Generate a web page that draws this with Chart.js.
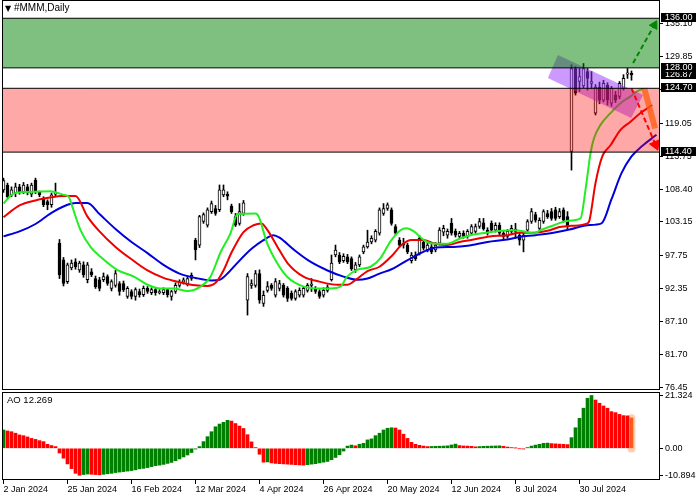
<!DOCTYPE html>
<html><head><meta charset="utf-8">
<script src="https://cdn.jsdelivr.net/npm/chart.js@4.4.1/dist/chart.umd.min.js"></script>
<style>
html,body{margin:0;padding:0;background:#fff;}
#wrap{position:relative;width:700px;height:500px;overflow:hidden;font-family:"Liberation Sans",Arial,sans-serif;}
#main{position:absolute;left:0;top:0;}
#ao{position:absolute;left:0;top:390px;}
.lbl{position:absolute;color:#000;white-space:nowrap;line-height:12px;}
</style></head><body>
<div id="wrap">
<canvas id="main" width="700" height="391"></canvas>
<canvas id="ao" width="700" height="110"></canvas>
<div class="lbl" id="title" style="left:5px;top:2px;font-size:10px;"><span style="font-family:'DejaVu Sans';font-size:8px;">&#9660;</span> <span id="sym"></span></div>
<div class="lbl" id="aolbl" style="left:7px;top:394px;font-size:9.5px;"></div>
</div>
<script>
// ---------------- DATA ----------------
const symbolName = '#MMM,Daily';
const xTickIndex  = [0, 16, 32, 48, 64, 80, 96, 112, 128, 144];
const xTickLabels = ['2 Jan 2024','25 Jan 2024','16 Feb 2024','12 Mar 2024','4 Apr 2024','26 Apr 2024','20 May 2024','12 Jun 2024','8 Jul 2024','30 Jul 2024'];
const yTickValues = [76.45, 81.70, 87.10, 92.35, 97.75, 103.15, 108.40, 113.75, 119.05, 124.45, 129.85, 135.10];

const opens = [108.3,109.1,107.5,107.8,108.8,108.0,108.8,107.6,109.9,107.9,106.8,106.4,105.9,107.6,99.7,97.0,93.5,95.7,96.7,95.4,
96.2,93.8,95.1,94.0,93.8,93.8,94.3,92.4,92.9,93.2,93.2,91.1,91.9,91.1,91.9,91.4,92.4,91.7,92.2,91.7,
91.7,92.2,91.1,91.9,92.9,93.4,93.0,94.0,100.2,99.4,103.2,102.6,104.8,105.3,105.1,107.5,107.6,105.7,104.0,102.9,
104.5,90.5,92.9,92.9,94.8,90.0,92.1,92.9,91.3,92.4,92.9,92.4,91.6,90.8,91.3,91.3,92.1,92.9,92.4,91.9,
91.3,92.1,93.8,97.8,97.8,96.9,97.5,97.2,95.4,96.2,98.3,99.1,99.9,100.2,101.3,104.5,105.3,105.1,102.4,100.2,
99.7,99.4,96.9,97.8,98.1,99.9,98.6,99.1,98.6,99.7,101.5,101.0,102.9,101.6,100.8,101.3,100.8,101.3,101.6,102.4,
103.0,101.8,102.9,101.8,102.6,101.3,100.8,101.6,102.0,101.0,100.2,101.8,103.2,104.3,102.1,103.2,104.5,104.8,105.1,104.0,
105.1,104.0,114.5,127.9,125.8,125.1,127.4,125.5,120.7,124.9,122.8,125.2,122.3,123.6,123.4,124.7,127.0,127.1];
const highs = [110.2,109.4,108.8,109.4,109.2,109.5,109.2,109.4,110.2,108.1,107.2,106.7,107.8,109.4,100.3,97.4,96.5,97.0,97.2,96.8,
96.7,96.6,95.6,94.4,94.2,94.9,94.6,93.8,95.3,93.5,93.6,92.7,92.2,92.5,92.3,92.8,92.7,92.5,92.4,92.2,
92.5,92.4,92.1,93.3,93.8,94.1,94.4,94.9,100.5,104.2,104.6,105.4,106.5,105.8,109.1,109.1,108.0,106.0,104.5,106.1,
106.6,94.8,93.8,95.3,95.4,92.0,93.5,93.2,94.0,93.7,93.2,92.7,92.0,92.2,92.5,92.7,93.2,94.0,92.7,92.2,
92.5,93.0,97.8,99.4,98.2,98.0,97.9,97.5,96.6,97.8,99.4,101.8,100.9,101.9,105.4,106.1,106.2,105.4,102.7,100.6,
100.5,99.7,98.2,98.3,100.9,100.3,99.8,99.5,99.8,102.2,102.6,102.0,103.7,102.0,101.6,101.7,101.9,102.7,102.8,103.7,
103.7,102.2,103.3,103.0,103.0,101.6,101.9,102.6,102.9,101.3,101.6,103.5,105.3,104.7,103.8,105.1,105.0,105.3,105.5,105.3,
105.4,104.8,128.5,128.2,127.9,128.7,127.9,127.4,125.3,125.7,126.0,125.6,125.0,124.2,125.8,126.9,127.9,127.5];
const lows = [107.9,107.0,107.2,107.2,107.6,107.7,107.5,107.2,107.7,107.2,105.6,105.1,105.5,107.2,94.0,92.8,93.2,95.4,95.5,95.0,
94.2,93.3,94.3,92.4,92.0,93.5,92.9,92.0,92.6,91.3,91.9,90.8,90.7,90.5,91.0,91.1,91.6,91.4,91.3,91.5,
91.4,91.0,90.5,91.6,92.6,93.1,92.8,93.7,97.0,99.0,102.9,102.3,104.5,104.2,104.8,107.2,106.7,104.5,102.4,102.6,
104.2,88.1,92.4,92.6,90.0,89.5,91.8,92.1,91.0,92.0,91.0,90.3,90.5,90.5,91.0,91.0,91.8,91.9,91.6,90.8,
91.0,91.8,93.6,97.5,96.4,96.6,96.4,95.3,95.0,95.9,98.0,98.9,99.6,99.9,101.0,104.2,105.0,102.6,101.0,99.1,
98.9,98.0,96.5,96.9,97.8,98.6,98.3,98.0,98.3,99.4,100.9,100.5,101.0,100.7,100.5,100.5,100.5,101.0,101.3,102.1,
101.8,101.0,101.5,101.5,101.0,100.4,100.5,101.3,100.5,99.4,98.3,101.5,102.9,103.1,101.8,102.9,103.7,103.4,103.4,103.7,
103.1,101.9,111.5,123.6,124.2,124.8,124.4,124.7,120.4,122.2,122.5,122.0,121.8,122.4,123.0,124.4,126.3,126.0];
const closes = [109.8,107.2,108.3,108.8,108.0,109.1,107.8,109.1,108.0,107.5,105.9,105.9,107.5,107.9,94.6,93.2,96.2,96.5,95.9,96.5,
94.6,96.2,94.6,92.7,92.4,94.3,93.2,93.5,94.8,91.9,92.2,92.4,91.1,92.2,91.4,92.4,91.9,92.2,91.7,91.9,
92.2,91.4,91.9,92.9,93.4,93.8,94.0,94.5,98.6,104.0,104.3,105.1,106.1,104.5,108.3,108.3,107.3,104.8,102.6,104.8,
106.2,94.3,93.2,94.8,90.5,91.3,92.7,92.4,93.5,93.2,91.3,90.8,90.8,91.9,92.1,92.4,92.9,93.1,91.9,91.1,
92.1,92.6,96.5,98.6,96.7,97.6,96.7,95.6,96.2,97.5,99.1,99.9,100.5,101.6,105.1,105.3,105.9,102.9,101.3,99.4,
99.4,98.3,97.8,97.2,100.5,98.9,99.4,98.3,99.4,101.8,102.1,101.6,101.3,101.0,101.3,100.8,101.6,102.4,102.4,103.2,
102.0,101.3,101.8,102.6,101.3,100.8,101.6,102.1,101.6,100.2,101.0,103.2,104.8,103.4,103.4,104.8,104.0,103.7,103.7,104.8,
103.4,102.4,127.9,123.9,126.6,127.9,126.3,125.8,124.9,122.8,125.5,122.8,124.7,122.8,125.5,126.3,127.2,126.87];

// Alligator lines: [bar position, price]
const jawLine = [[0,100.8],[4,101.6],[8,102.8],[12,104.6],[16,105.9],[18,106.2],[21,106.2],[24,104.4],[28,102.0],[32,99.9],[36,98.1],[40,96.2],[44,94.8],[48,94.1],[52,93.7],[54,93.8],[56,94.8],[58,96.2],[62,98.8],[65,100.2],[67.5,101.0],[69,100.6],[72.5,98.7],[76.5,96.8],[81,95.3],[85,94.3],[88.5,93.8],[91,94.0],[94,94.8],[97,95.5],[99,96.2],[102.5,97.5],[106,98.6],[108,99.0],[112.5,99.1],[116,99.3],[121,99.9],[126,100.3],[129,100.7],[133,101.0],[137.5,101.4],[141.5,101.9],[146,102.6],[149.5,102.9],[152,106.8],[154.5,111.0],[157,113.7],[159.5,115.3],[163.25,117.2]];
const teethLine = [[0,103.9],[4,105.8],[8,106.6],[12,107.1],[14.5,107.3],[18,107.3],[21,104.0],[24,101.6],[28,99.1],[32,97.1],[36,95.3],[40,94.1],[44,93.4],[48,92.9],[51,92.8],[53,93.3],[55,95.3],[57,98.2],[60,101.5],[62.5,102.6],[64.5,102.9],[66,101.8],[68.5,99.1],[71,96.5],[75,94.3],[79,93.5],[83.5,93.0],[86,93.0],[88.5,94.0],[91,95.2],[94,95.9],[97,97.6],[99.5,99.4],[102,100.2],[105,100.2],[107.5,99.7],[111,99.4],[114,99.9],[117.5,100.3],[121.5,100.8],[126,101.0],[129,101.4],[132.5,101.4],[136,101.7],[139,102.3],[142,102.5],[146,102.9],[146.5,103.4],[148,109.4],[149.7,113.7],[151.75,115.5],[154.25,118.0],[156.75,119.3],[159.25,120.7],[162.2,122.0]];
const lipsLine = [[0,106.1],[2.5,107.7],[7.5,108.0],[11.75,108.1],[15,107.5],[16.3,107.2],[17.2,105.6],[19.25,101.8],[21.75,99.1],[24.25,97.5],[28.4,95.4],[32.6,94.3],[36,93.0],[39.25,92.4],[42.6,92.4],[46,92.0],[49.25,92.7],[51.75,94.3],[54.25,98.2],[56.75,101.3],[58.5,104.4],[63,104.5],[63.8,104.0],[65.9,99.7],[68.4,96.5],[70.9,94.3],[75.1,92.7],[79.25,92.4],[81.75,92.4],[84.25,92.7],[85.9,94.3],[88.4,95.4],[91.75,95.9],[94.25,97.3],[96.75,100.0],[99.25,101.8],[100.7,102.1],[102.6,101.6],[105.1,100.2],[106.75,99.7],[110.9,99.6],[114.25,100.5],[116.75,101.0],[120.9,101.4],[124.25,101.7],[127.6,101.8],[130.1,101.6],[132.6,101.3],[134.25,101.8],[137.6,102.6],[140.9,103.3],[144.25,103.7],[145.5,108.3],[146.75,114.2],[147.6,116.6],[149.25,118.8],[151.75,120.7],[154.25,122.3],[156.75,123.4],[158.4,124.2],[160.1,124.7]];

// Zones (price levels) and annotations
const zoneLevels = [136.00, 128.00, 124.70, 114.40];
const channelCorners = [[138.6,130.07],[159.9,123.62],[156.9,119.91],[136.1,126.36]];
const upArrow = [[157.4,128.78],[162.7,134.9]];
const downArrow = [[157.0,124.7],[163.0,115.6]];
const orangeBand = [[160.2,124.7],[162.9,118.2]];

// Awesome Oscillator
const aoValues = [7.4,7.0,6.7,6.1,5.4,5.1,4.6,4.0,3.6,3.1,2.7,1.6,1.1,0.7,-1.9,-4.0,-6.3,-8.2,-10.1,-10.894,
-10.6,-10.4,-10.5,-10.6,-10.7,-10.5,-10.3,-10.1,-9.8,-9.6,-9.4,-9.2,-9.0,-8.7,-8.3,-8.1,-7.8,-7.4,-7.0,-6.8,
-6.5,-6.1,-5.7,-5.0,-4.3,-3.5,-2.7,-1.7,-0.3,0.7,2.7,4.7,6.7,8.7,9.8,10.5,11.3,11.0,10.0,9.0,
8.0,5.5,2.6,0.3,-2.4,-5.6,-5.5,-5.9,-6.1,-6.2,-6.3,-6.4,-6.5,-6.6,-6.7,-6.8,-6.6,-6.4,-6.2,-5.9,
-5.6,-5.3,-4.6,-3.7,-2.6,-1.1,0.9,1.3,1.0,1.6,2.0,3.4,3.8,5.1,6.1,7.4,8.1,8.3,8.2,7.4,
5.7,4.0,2.4,1.6,1.2,0.9,0.7,0.75,0.8,0.85,0.9,1.0,1.35,1.7,1.1,0.95,0.9,0.8,0.6,0.7,
0.8,0.85,0.9,0.95,1.0,0.8,0.5,0.3,0.1,-0.15,-0.3,0.3,0.9,1.3,1.6,2.0,2.1,1.9,1.8,1.7,
1.6,1.5,4.3,8.3,12.1,16.2,20.2,21.324,19.5,18.2,17.1,16.2,14.8,14.4,13.7,13.2,13.1,12.269];

// ---------------- CHART ----------------
const N = closes.length;
const xMin = -0.375, xMax = 164.125;
const FONT = '"Liberation Sans", Arial, sans-serif';
Chart.defaults.font.family = FONT;
Chart.defaults.color = '#000';

document.getElementById('sym').textContent = symbolName;
document.getElementById('aolbl').textContent = 'AO ' + aoValues[N-1].toFixed(3);

const frame = {
  id: 'frame',
  afterDraw(chart) {
    const {ctx, chartArea: a} = chart;
    ctx.save();
    ctx.strokeStyle = '#000'; ctx.lineWidth = 1;
    ctx.strokeRect(a.left + 0.5, a.top + 0.5, a.right - a.left - 1, a.bottom - a.top - 1);
    ctx.restore();
  }
};
const priceBoxes = {
  id: 'priceBoxes',
  afterDraw(chart) {
    const ys = chart.scales.y, ctx = chart.ctx;
    const vals = [closes[N-1]].concat(zoneLevels);
    ctx.save();
    ctx.font = '9px ' + FONT;
    ctx.textBaseline = 'middle';
    ctx.textAlign = 'left';
    vals.forEach(v => {
      const py = Math.round(ys.getPixelForValue(v)) - 1;
      ctx.fillStyle = '#000';
      ctx.fillRect(661, py - 4, 35, 9);
      ctx.fillStyle = '#fff';
      ctx.fillText(v.toFixed(2), 665, py + 0.5);
    });
    ctx.restore();
  }
};

const pts = pairs => pairs.map(p => ({x: p[0], y: p[1]}));
const levelLine = v => [{x: xMin, y: v}, {x: xMax, y: v}];
function maDs(pairs, color) {
  return {type: 'line', data: pts(pairs), borderColor: color, borderWidth: 2, pointRadius: 0,
          cubicInterpolationMode: 'monotone', fill: false, order: 3};
}
function arrowDs(pairs, color, r) {
  const last = pairs.length - 1;
  return {type: 'line', data: pts(pairs), borderColor: color, backgroundColor: color, borderWidth: 2,
    borderDash: [5, 3], fill: false, order: 1, pointStyle: 'triangle',
    pointRadius: c => c.dataIndex === last ? r : 0, pointHoverRadius: 0,
    pointBackgroundColor: color, pointBorderColor: color, pointBorderWidth: 1,
    pointRotation: c => {
      const xs = c.chart.scales.x, ys = c.chart.scales.y;
      const dx = xs.getPixelForValue(pairs[last][0]) - xs.getPixelForValue(pairs[0][0]);
      const dy = ys.getPixelForValue(pairs[last][1]) - ys.getPixelForValue(pairs[0][1]);
      return Math.atan2(dx, -dy) * 180 / Math.PI;
    }};
}
const bull = i => closes[i] >= opens[i];

new Chart(document.getElementById('main'), {
  type: 'bar',
  data: {
    datasets: [
      {type: 'line', data: levelLine(zoneLevels[0]), borderColor: '#000', borderWidth: 1, pointRadius: 0, fill: false, order: 0},
      {type: 'line', data: levelLine(zoneLevels[1]), borderColor: '#000', borderWidth: 1, pointRadius: 0, fill: '-1', backgroundColor: 'rgba(0,128,0,0.5)', order: 0},
      {type: 'line', data: levelLine(zoneLevels[2]), borderColor: '#000', borderWidth: 1, pointRadius: 0, fill: false, order: 0},
      {type: 'line', data: levelLine(zoneLevels[3]), borderColor: '#000', borderWidth: 1, pointRadius: 0, fill: '-1', backgroundColor: 'rgba(255,0,0,0.34)', order: 0},
      arrowDs(upArrow, '#0a8a0a', 5),
      arrowDs(downArrow, '#ff0000', 6),
      {type: 'line', data: pts(orangeBand), borderColor: 'rgba(255,140,20,0.75)', borderWidth: 6, pointRadius: 0, fill: false, order: 1, borderCapStyle: 'butt'},
      {type: 'line', data: pts(channelCorners.concat([channelCorners[0]])), borderColor: 'rgba(0,0,0,0)', borderWidth: 1,
       backgroundColor: 'rgba(153,51,255,0.5)', fill: 'shape', pointRadius: 0, tension: 0, order: 2},
      maDs(lipsLine, '#22ee22'),
      maDs(teethLine, '#ee0000'),
      maDs(jawLine, '#0000dd'),
      {type: 'bar', data: opens.map((o, i) => ({x: i, y: [o, closes[i]]})), barThickness: 3, grouped: false,
       minBarLength: 1, borderWidth: 1, borderColor: '#000', borderSkipped: false,
       backgroundColor: c => bull(c.dataIndex) ? '#fff' : '#000', order: 4},
      {type: 'bar', data: lows.map((l, i) => ({x: i, y: [l, highs[i]]})), barThickness: 1, grouped: false,
       backgroundColor: '#000', borderWidth: 0, order: 5}
    ]
  },
  options: {
    responsive: false, animation: false, events: [],
    layout: {autoPadding: false, padding: {left: 2, top: 0, right: 0, bottom: 1}},
    plugins: {legend: {display: false}, tooltip: {enabled: false}},
    scales: {
      x: {type: 'linear', min: xMin, max: xMax, offset: false, display: false, grid: {offset: false}},
      y: {position: 'right', min: 76.01, max: 138.95,
          afterBuildTicks: s => { s.ticks = yTickValues.map(v => ({value: v})); },
          afterFit: s => { s.width = 40; s.paddingTop = 0; s.paddingBottom = 0; },
          ticks: {autoSkip: false, padding: 2, font: {size: 9}, color: '#000', callback: v => Number(v).toFixed(2)},
          grid: {drawOnChartArea: false, drawTicks: true, tickLength: 3, color: '#000'},
          border: {display: false}}
    }
  },
  plugins: [frame, priceBoxes]
});

const aoMax = Math.max(...aoValues), aoMin = Math.min(...aoValues);
const aoColors = aoValues.map((v, i) => i === N - 1 ? 'rgb(255,90,30)' : (i === 0 || v > aoValues[i-1]) ? '#008000' : '#ff0000');

new Chart(document.getElementById('ao'), {
  type: 'bar',
  data: {
    datasets: [
      {type: 'bar', data: aoValues.map((v, i) => ({x: i, y: v})), backgroundColor: aoColors, barThickness: 3, grouped: false, order: 1},
      {type: 'bar', data: [{x: N - 1, y: [-1.6, aoValues[N-1] + 1.4]}], backgroundColor: 'rgba(255,165,110,0.55)',
       barThickness: 7, borderRadius: 4, borderSkipped: false, grouped: false, order: 2}
    ]
  },
  options: {
    responsive: false, animation: false, events: [],
    layout: {autoPadding: false, padding: {left: 2, top: 2, right: 0, bottom: 0}},
    plugins: {legend: {display: false}, tooltip: {enabled: false}},
    scales: {
      x: {type: 'linear', min: xMin, max: xMax, offset: false,
          afterBuildTicks: s => { s.ticks = xTickIndex.map(v => ({value: v})); },
          afterFit: s => { s.height = 20; s.paddingLeft = 0; s.paddingRight = 0; },
          ticks: {autoSkip: false, maxRotation: 0, align: 'start', padding: 0, font: {size: 9}, color: '#000',
                  callback: v => xTickLabels[xTickIndex.indexOf(v)]},
          grid: {drawOnChartArea: false, drawTicks: true, tickLength: 4, color: '#000', offset: false},
          border: {display: false}},
      y: {position: 'right', min: -12.8, max: 22.74,
          afterBuildTicks: s => { s.ticks = [aoMax, 0, aoMin].map(v => ({value: v})); },
          afterFit: s => { s.width = 40; s.paddingTop = 0; s.paddingBottom = 0; },
          ticks: {autoSkip: false, padding: 2, font: {size: 9}, color: '#000',
                  callback: v => v === 0 ? '0.00' : Number(v).toFixed(3)},
          grid: {drawOnChartArea: false, drawTicks: true, tickLength: 3, color: '#000'},
          border: {display: false}}
    }
  },
  plugins: [frame]
});
</script>
</body></html>
